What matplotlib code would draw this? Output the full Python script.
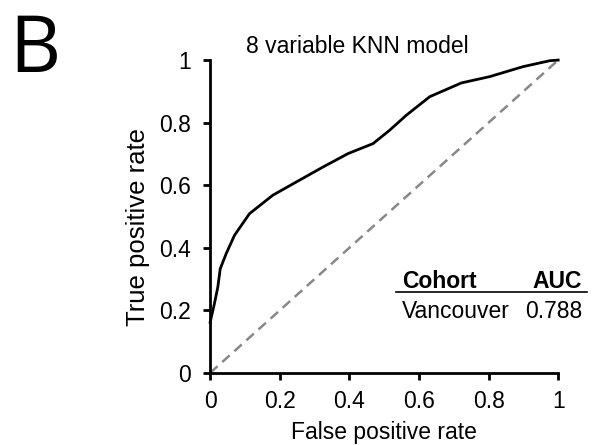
import matplotlib
matplotlib.use("Agg")
import matplotlib.pyplot as plt

fpr = [0.0, 0.012, 0.022, 0.029, 0.046, 0.07, 0.113, 0.18, 0.247, 0.324, 0.396, 0.468,
       0.516, 0.564, 0.631, 0.722, 0.803, 0.899, 0.976, 1.0]
tpr = [0.162, 0.22, 0.274, 0.333, 0.381, 0.44, 0.509, 0.568, 0.61, 0.658, 0.701, 0.733,
       0.776, 0.824, 0.883, 0.927, 0.947, 0.979, 0.998, 1.0]
ticks = [0, 0.2, 0.4, 0.6, 0.8, 1]
tick_labels = ["0", "0.2", "0.4", "0.6", "0.8", "1"]
cohort = "Vancouver"
auc = "0.788"

plt.rcParams['font.family'] = ['Liberation Sans', 'DejaVu Sans']

fig = plt.figure(figsize=(5.97, 4.45), dpi=100)
ax = fig.add_axes([0.352, 0.162, 0.583, 0.703])
ax.plot([0, 1], [0, 1], color='#888888', lw=1.8, ls=(0, (4, 2.5)), clip_on=False)
ax.plot(fpr, tpr, color='black', lw=2.0, clip_on=False)
ax.set_xlim(0, 1)
ax.set_ylim(0, 1)
for s in ['top', 'right']:
    ax.spines[s].set_visible(False)
for s in ['left', 'bottom']:
    ax.spines[s].set_linewidth(2)
ax.set_xticks(ticks)
ax.set_xticklabels(tick_labels)
ax.set_yticks(ticks)
ax.set_yticklabels(tick_labels)
ax.tick_params(direction='out', length=5, width=2, labelsize=16.5)
ax.tick_params(axis='x', pad=7)
ax.tick_params(axis='y', pad=9)
ax.set_xlabel("False positive rate", fontsize=16.5, va='baseline')
ax.xaxis.set_label_coords(0.5, -0.211)
ax.set_ylabel("True positive rate", fontsize=18.5, va='center', ha='center')
ax.yaxis.set_label_coords(-0.207, 0.468)

fig.text(0.598, 0.881, "8 variable KNN model", fontsize=16.5, ha='center', va='baseline')
fig.text(0.015, 0.838, "B", fontsize=57,
         fontfamily=['Liberation Sans Narrow', 'Open Sans'], ha='left', va='baseline')

# table
fig.text(0.673, 0.353, "Cohort", fontsize=16.5, fontweight='bold', ha='left', va='baseline')
fig.text(0.975, 0.353, "AUC", fontsize=16.5, fontweight='bold', ha='right', va='baseline')
fig.add_artist(plt.Line2D([0.663, 0.983], [0.344, 0.344], color='black', lw=1.2,
                          transform=fig.transFigure))
fig.text(0.673, 0.285, cohort, fontsize=16.5, ha='left', va='baseline')
fig.text(0.975, 0.285, auc, fontsize=16.5, ha='right', va='baseline')

fig.savefig("out.png", dpi=100)
